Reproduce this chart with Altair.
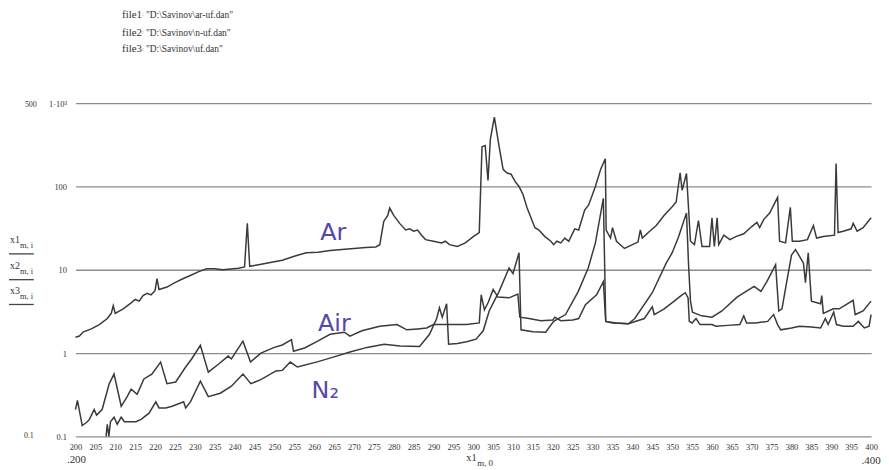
import altair as alt
import pandas as pd

# ---------------- data ----------------
ar_wl = [200, 201, 202, 204, 206, 208, 209, 209.5, 210, 212, 214, 215, 216, 217, 218, 219, 220, 220.5, 221,
         223, 225, 227, 229, 231, 233, 235, 237, 239, 241, 242.5, 243.2, 243.8, 246, 248, 250, 252, 255, 258,
         261, 264, 267, 270, 273, 275.5, 276.5, 277.5, 278.5, 279, 280, 281.5, 283, 284, 285, 286, 287, 288,
         290, 292, 293, 294, 296, 298, 300, 301.5, 302.2, 303, 303.7, 304.3, 305.3, 306.5, 307.5, 308.5, 309.5,
         310.5, 311.5, 312.5, 313.5, 314.5, 315.5, 316.5, 318, 319.5, 320.2, 321, 322, 323, 324, 325.5, 326.5,
         328, 329, 330.7, 332, 333.2, 333.4, 334.5, 335, 336, 338, 340, 341.4, 342, 342.5, 344, 346, 348, 350,
         351, 352, 352.5, 353.6, 354.6, 355.6, 356.6, 357.5, 359.4, 360, 360.6, 361.3, 361.7, 363, 364.5, 366,
         368, 370, 371.3, 372, 373, 374.5, 376.5, 377, 378.5, 379.7, 380.2, 382, 384, 385.5, 386.3, 388, 390.8,
         391.2, 391.7, 393, 395, 395.5, 396.5, 398, 400]
ar_val = [1.55, 1.6, 1.8, 1.95, 2.2, 2.6, 3.0, 3.7, 3.0, 3.4, 4.0, 4.4, 4.2, 4.9, 5.2, 5.0, 5.6, 7.8, 5.8,
          6.2, 7.0, 7.8, 8.6, 9.5, 10.3, 10.3, 10.0, 10.2, 10.4, 10.8, 36, 11, 11.5, 12, 12.5, 13, 14.5, 16,
          16.2, 17, 17.5, 18, 18.5, 18.8, 20, 38, 45, 55, 45, 36, 30, 31, 29, 30, 26, 23,
          22, 21, 22, 20, 19, 21, 25, 28, 300, 310, 118, 370, 680, 300, 160, 145, 140,
          115, 100, 80, 56, 42, 32, 30, 25, 22, 20, 22, 21, 24, 22, 31, 30,
          52, 60, 100, 160, 215, 30, 24, 32, 22, 18, 20, 21.5, 30, 24, 28, 34, 45, 57,
          65, 146, 90, 143, 22, 20, 39, 19, 19, 42, 19, 42, 20, 26, 23, 25,
          27, 33, 37, 32, 40, 48, 74, 22, 21, 56, 22, 22, 23, 34, 24, 25, 26,
          188, 28, 29, 31, 36, 29, 32, 42]

air_wl = [200, 200.5, 201.7, 203, 203.5, 204.7, 205.3, 206.7, 208.5, 209.7, 211.5, 213, 214, 215.5, 217.2,
          219.2, 221.4, 223, 225.2, 227.7, 229.2, 231.4, 233.4, 236, 238.4, 239.2, 242.1, 244, 246.6, 250,
          252, 254.3, 254.8, 257.6, 261, 264, 267.6, 269, 272, 276.5, 280.8, 283.3, 286, 288.3, 290, 292,
          295, 298.3, 301.5, 302, 302.8, 303.8, 305, 306.2, 309, 311.2, 311.7, 314, 317, 320, 320.5, 322,
          325, 326.5, 328.2, 331, 332.7, 333.3, 336, 339, 343, 345, 345.5, 348, 350.5, 352, 353.3, 354,
          354.3, 355, 356, 357, 360, 361, 364, 367, 368, 368.7, 371, 374, 375.5, 376.5, 377.3, 380, 382,
          385, 387.3, 388.5, 389.2, 390.6, 391.3, 393, 395.5, 396.8, 398.3, 399.5, 400]
air_val = [0.21, 0.27, 0.135, 0.15, 0.16, 0.21, 0.18, 0.21, 0.43, 0.56, 0.23, 0.3, 0.37, 0.32, 0.49,
           0.56, 0.78, 0.43, 0.45, 0.68, 0.85, 1.24, 0.59, 0.74, 0.92, 0.85, 1.39, 0.78, 1.0, 1.17,
           1.25, 1.45, 1.05, 1.15, 1.4, 1.68, 1.78, 1.6, 1.85, 2.1, 2.2, 1.9, 1.95, 2.0, 2.2, 2.2,
           2.2, 2.2, 2.3, 5.0, 3.3, 4.1, 5.8, 4.7, 4.6, 5.1, 2.7, 2.6, 2.45, 2.5, 2.7, 2.45,
           2.5, 2.6, 3.8, 5.0, 7.2, 2.4, 2.3, 2.25, 2.6, 3.6, 2.9, 3.4, 4.2, 4.8, 5.3, 4.6,
           2.4, 2.3, 2.6, 2.2, 2.2, 2.1, 2.15, 2.2, 2.8, 2.3, 2.3, 2.4, 2.9, 2.2, 1.9, 2.0, 2.1,
           2.05, 2.0, 2.6, 2.2, 3.1, 2.2, 2.1, 2.1, 2.4, 2.0, 2.1, 2.9]

n2_wl = [207.7, 208, 208.4, 208.8, 209.7, 210.5, 211.5, 212.3, 215.2, 216.5, 218.5, 220.2, 221, 222.7,
         224.3, 227.2, 227.7, 228.9, 231.4, 233.4, 236.4, 239.2, 242.1, 244.1, 246.6, 250.4, 252, 254,
         255.8, 261, 265, 269, 273.3, 277.6, 281.6, 286.5, 289, 290.8, 291.5, 292.2, 293.3, 293.8, 296,
         298.3, 300.7, 302.5, 304, 306.5, 309, 310, 311.5, 312, 315, 318.2, 320.2, 323.2, 326.4, 328.9,
         330.7, 332.7, 333.3, 335, 339, 340.6, 345, 348.5, 350, 351.5, 353.6, 354.1, 354.6, 355.1, 357.4,
         360, 362.5, 366.3, 370.6, 372.3, 373.8, 376, 376.8, 377.6, 378.8, 380, 381, 382.2, 383, 383.5,
         384.2, 385, 387.3, 387.6, 388, 390.5, 392, 395.5, 396, 398, 400]
n2_val = [0.1, 0.14, 0.1, 0.15, 0.17, 0.14, 0.17, 0.15, 0.15, 0.16, 0.19, 0.26, 0.22, 0.22,
          0.23, 0.26, 0.22, 0.26, 0.46, 0.30, 0.33, 0.4, 0.56, 0.43, 0.48, 0.61, 0.62, 0.78,
          0.68, 0.79, 0.9, 1.03, 1.17, 1.28, 1.22, 1.2, 1.68, 2.6, 3.5, 2.7, 3.9, 1.28, 1.3,
          1.37, 1.47, 1.85, 3.2, 5.5, 10.5, 9, 16, 1.9, 1.8, 1.78, 2.4, 2.9, 5.5, 10.5,
          21, 72, 2.4, 2.3, 2.25, 2.6, 5.3, 12, 16, 24, 48, 12, 4.2, 3.1, 2.8,
          2.7, 3.2, 4.7, 6.3, 5.5, 7.2, 11.5, 3.2, 3.4, 7.2, 15, 17.5, 14, 12, 7,
          16, 4.2, 3.9, 4.9, 3.0, 3.4, 3.4, 4.3, 2.9, 3.2, 4.2]

x_ticks = list(range(200, 401, 5))
y_ticks = [0.1, 1, 10, 100, 1000]

label_names = ["Ar", "Air", "N\u2082"]
label_wl = [264.8, 265.1, 262.8]
label_val = [27.6, 2.2, 0.353]

file_names = ["file1", "file2", "file3"]
file_paths = ['"D:\\Savinov\\ar-uf.dan"', '"D:\\Savinov\\n-uf.dan"', '"D:\\Savinov\\uf.dan"']

# ---------------- build ----------------
frames = []
for name, wl, val in [("Ar", ar_wl, ar_val), ("Air", air_wl, air_val), ("N2", n2_wl, n2_val)]:
    frames.append(pd.DataFrame({"wl": wl, "v": val, "series": name}))
df = pd.concat(frames, ignore_index=True)

SERIF = "Liberation Serif"
INK = "#333333"

xscale = alt.Scale(domain=[200, 400], nice=False, zero=False)
yscale = alt.Scale(type="log", domain=[0.1, 1000], nice=False)
xaxis = alt.Axis(values=x_ticks, title=None, ticks=False, domain=False, grid=False,
                 labelFont=SERIF, labelFontSize=8.5, labelColor=INK, labelPadding=6,
                 labelFlush=False, labelOverlap=False, labelBound=False)
yaxis = alt.Axis(values=y_ticks, title=None, ticks=False, domain=False, grid=True,
                 gridColor="#8c8c8c", gridWidth=1.3,
                 labelFont=SERIF, labelFontSize=8.5, labelColor=INK, labelPadding=9,
                 labelOverlap=False,
                 labelExpr="datum.value >= 1000 ? '1\u00b710\u00b3' : format(datum.value, '~g')")

lines = alt.Chart(df).mark_line(strokeWidth=1.5, color="#3a3a3a").encode(
    x=alt.X("wl:Q", scale=xscale, axis=xaxis),
    y=alt.Y("v:Q", scale=yscale, axis=yaxis),
    detail="series:N",
    order="wl:Q",
)

lab_df = pd.DataFrame({"wl": label_wl, "v": label_val, "t": label_names})
hand = alt.Chart(lab_df).mark_text(font="DejaVu Sans", fontSize=24, color="#5548a8",
                                   align="center", baseline="middle").encode(
    x=alt.X("wl:Q", scale=xscale, axis=xaxis),
    y=alt.Y("v:Q", scale=yscale, axis=yaxis),
    text="t:N")

one = pd.DataFrame({"k": [0]})


def txt(text, x, y, size, align="left", font=SERIF, color=INK, weight="normal"):
    return alt.Chart(one).mark_text(text=text, font=font, fontSize=size, color=color, align=align,
                                    baseline="middle", fontWeight=weight).encode(
        x=alt.value(x), y=alt.value(y))


def hline(x1, x2, y):
    return alt.Chart(one).mark_rule(color="#444444", strokeWidth=1.3).encode(
        x=alt.value(x1), x2=alt.value(x2), y=alt.value(y))


OX, OY = 76, 102  # plot origin on the page
extras = []
for i, (fn, fp) in enumerate(zip(file_names, file_paths)):
    py = [13, 31, 48][i]
    extras.append(txt(fn, 123 - OX, py - OY, 11))
    extras.append(txt(":", 143 - OX, py - OY - 1, 6, color="#888888"))
    extras.append(txt(fp, 147 - OX, py - OY, 9.5))

extras += [
    txt("500", 37 - OX, 104 - OY, 8, align="right"),
    txt("0.1", 34 - OX, 438 - OY, 8, align="right"),
    txt(".200", 77 - OX, 462 - OY, 11, align="center"),
    txt(".400", 878 - OX, 463 - OY, 11, align="center"),
    txt("x1", 470 - OX, 460 - OY, 10.5),
    txt("m, 0", 481 - OX, 465 - OY, 9),
]
for j, yy in enumerate([240, 266, 291]):
    extras.append(txt("x" + str(j + 1), 10 - OX, yy - OY, 10))
    extras.append(txt("m, i", 20 - OX, yy + 5 - OY, 8.5))
    extras.append(hline(9 - OX, 34 - OX, yy + 14 - OY))

chart = alt.layer(lines, hand, *extras).properties(
    width=802, height=336,
    padding={"left": 68, "top": 94, "right": 10, "bottom": 32},
    autosize=alt.AutoSizeParams(type="none"),
    background="white",
).configure_view(stroke=None).configure_axis(labelOverlap=False)

chart.save("out.html", embed_options={"renderer": "svg", "actions": False})
